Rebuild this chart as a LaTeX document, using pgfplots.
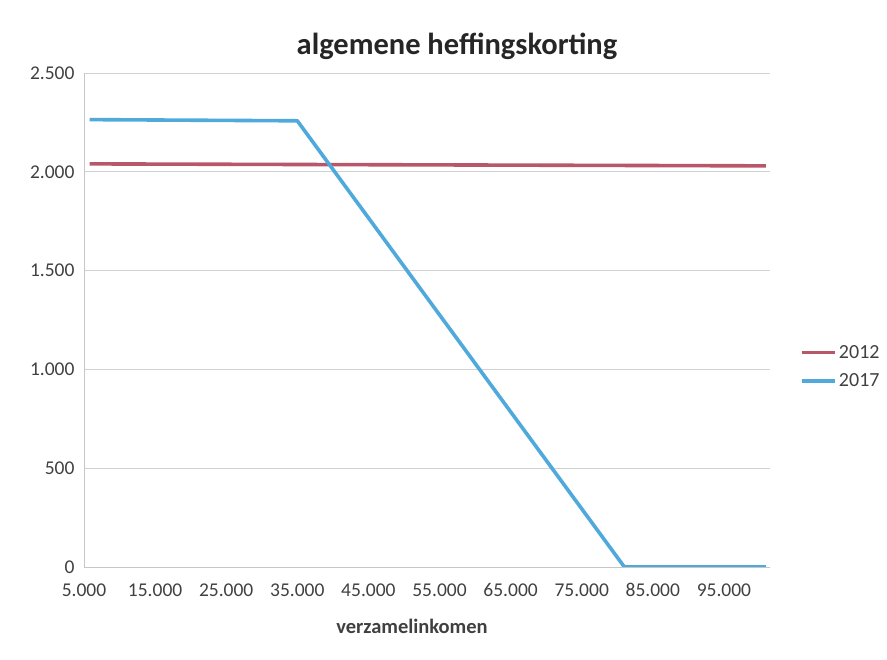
\documentclass[border=0pt]{standalone}
\usepackage{fontspec}
\setmainfont{Carlito}
\usepackage{pgfplots}
\pgfplotsset{compat=1.18}
\definecolor{c2012}{HTML}{B8566A}
\definecolor{c2017}{HTML}{4FAADB}
\definecolor{txt}{HTML}{404040}
\begin{document}
\begin{tikzpicture}
\useasboundingbox (0pt,0pt) rectangle (887pt,660pt);
\begin{axis}[
  at={(84pt,93pt)}, anchor=south west, scale only axis,
  width=686pt, height=494pt,
  xmin=5000, xmax=101480, ymin=0, ymax=2500,
  xtick={5000,15000,...,95000}, ytick={0,500,...,2500},
  scaled ticks=false,
  /pgf/number format/1000 sep={.},
  /pgf/number format/assume math mode=true,
  ymajorgrids, grid style={gray!35, line width=0.7pt},
  axis x line*=bottom, axis y line*=left,
  axis line style={gray!45, line width=0.7pt},
  major tick length=0pt,
  tick label style={font=\fontsize{19.5}{22}\selectfont, text=txt},
  yticklabel style={xshift=-6pt},
  xticklabel style={yshift=-13pt},
  legend style={at={(1.044,0.405)}, anchor=west, draw=none, fill=none,
    font=\fontsize{20}{23}\selectfont, text=txt, row sep=10pt,
    inner sep=0pt},
  legend cell align=left,
  legend image code/.code={\draw[#1] (0pt,0pt) -- (33pt,0pt);},
]
\addplot[c2012, line width=3.6pt] coordinates {(5800,2040) (100900,2030)};
\addlegendentry{2012}
\addplot[c2017, line width=3.6pt, line join=round] coordinates {(5800,2264) (35000,2258) (81000,0) (100900,0)};
\addlegendentry{2017}
\end{axis}
\node[font=\bfseries\fontsize{30.5}{34}\selectfont, text=black!85] at (457pt,614pt) {algemene heffingskorting};
\node[font=\bfseries\fontsize{20.5}{24}\selectfont, text=txt] at (412pt,34pt) {verzamelinkomen};
\end{tikzpicture}
\end{document}
